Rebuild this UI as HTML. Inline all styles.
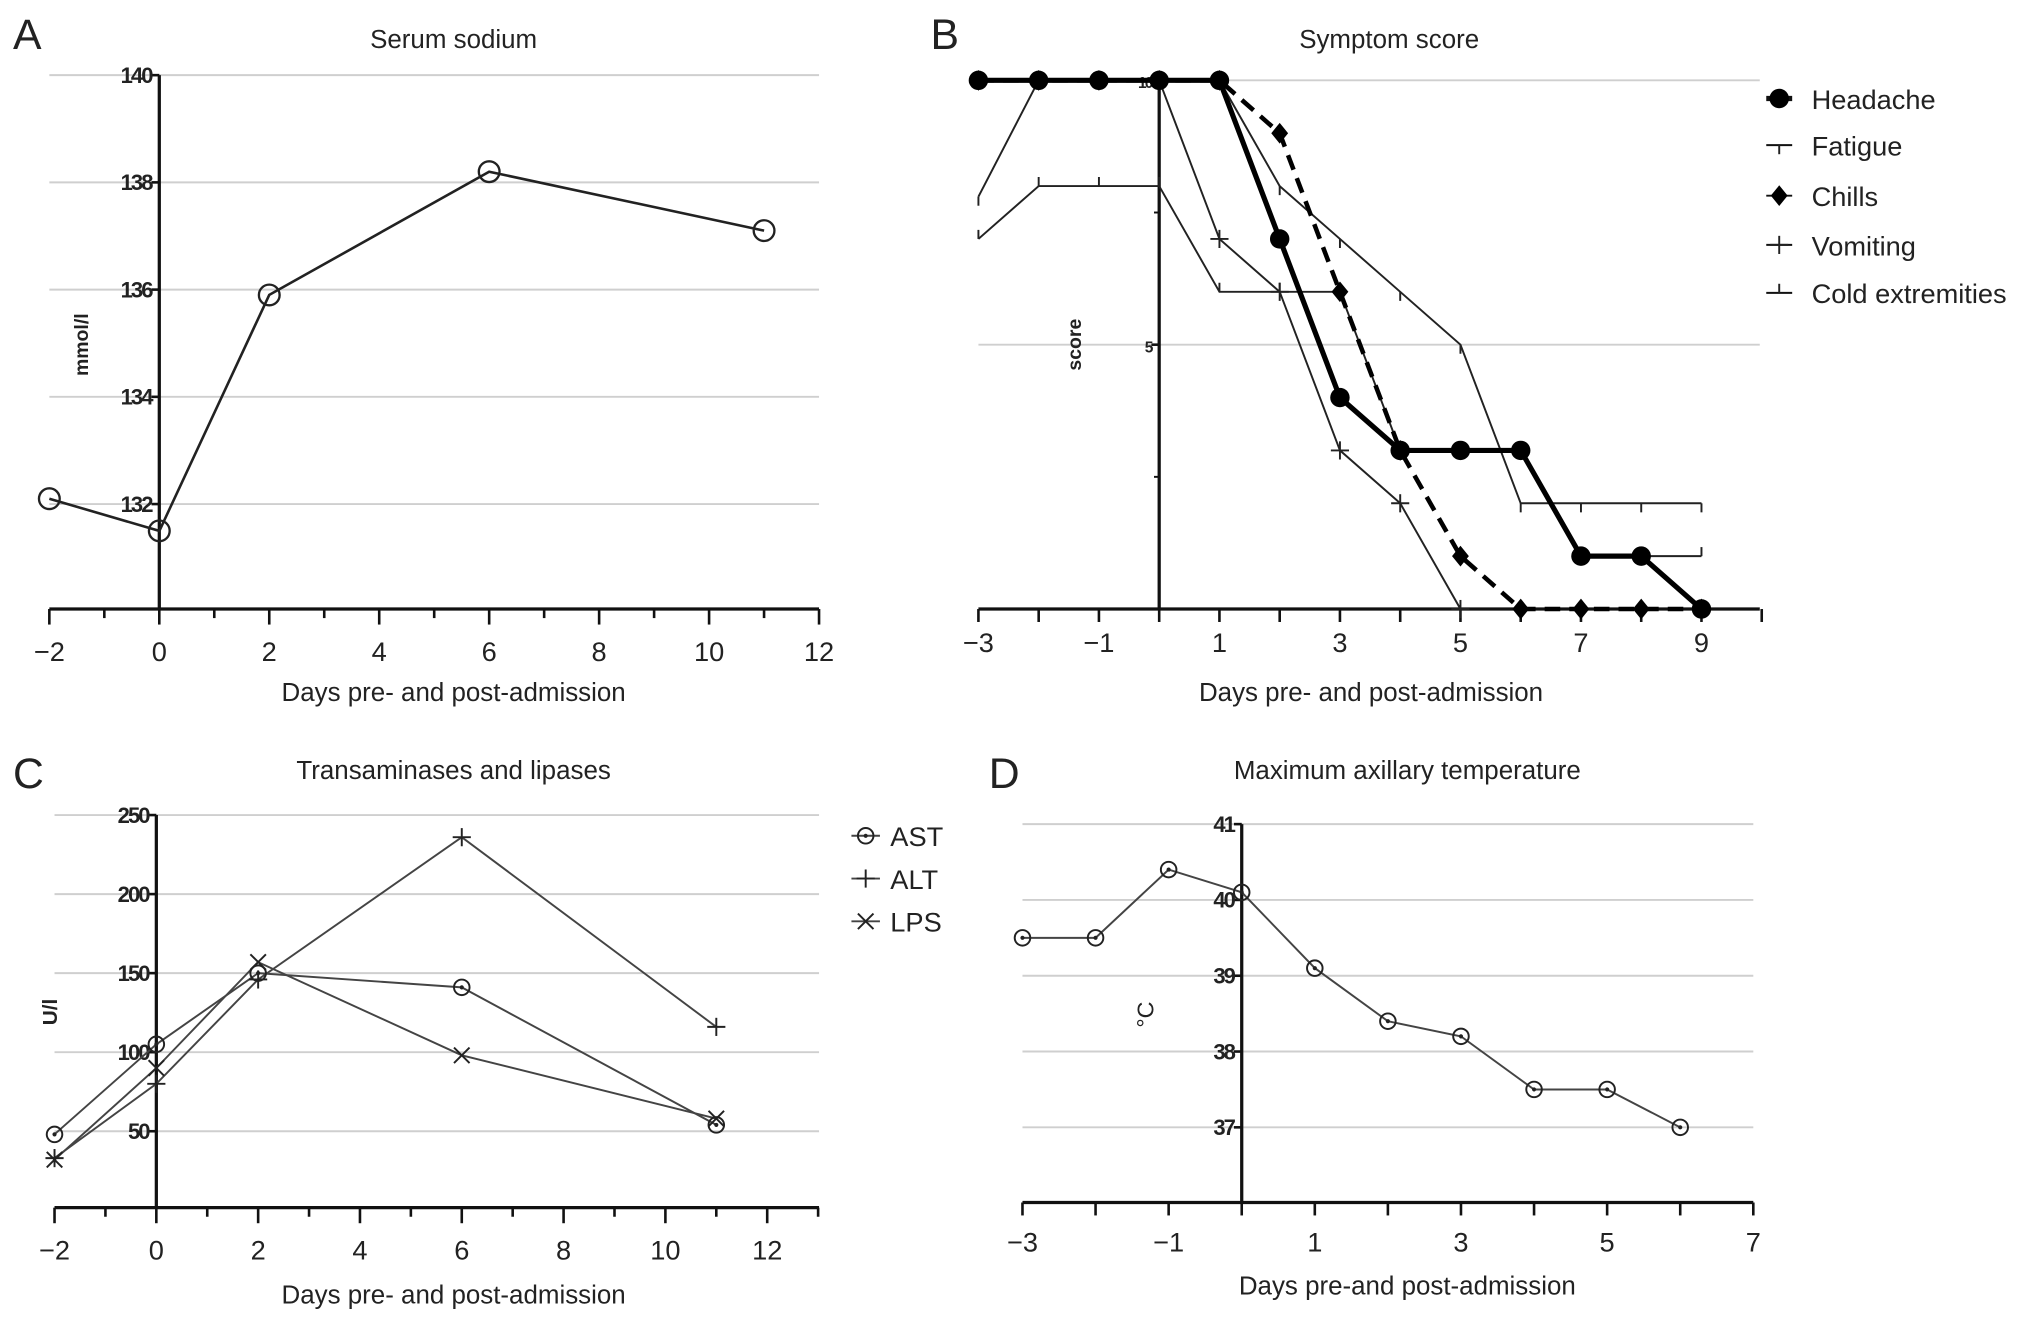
<!DOCTYPE html>
<html><head><meta charset="utf-8"><style>
html,body{margin:0;padding:0;background:#fff;}
svg{display:block;font-family:"Liberation Sans",Arial,sans-serif;}
</style></head><body>
<svg id="fig" width="2032" height="1323" viewBox="0 0 1568 1021" xmlns="http://www.w3.org/2000/svg">
<rect width="1568" height="1021" fill="#fff"/>
</svg>
<script>
// Panel A data
const aDays = [-2, 0, 2, 6, 11];
const aSodium = [132.1, 131.5, 135.9, 138.2, 137.1];
const aYTicks = [132, 134, 136, 138, 140];
const aXTicks = [-2, 0, 2, 4, 6, 8, 10, 12];
// Panel B data
const bDays = [-3, -2, -1, 0, 1, 2, 3, 4, 5, 6, 7, 8, 9];
const bHeadache = [10, 10, 10, 10, 10, 7, 4, 3, 3, 3, 1, 1, 0];
const bFatigue = [7.8, 10, 10, 10, 10, 8, 7, 6, 5, 2, 2, 2, 2];
const bChills = [10, 10, 10, 10, 10, 9, 6, 3, 1, 0, 0, 0, 0];
const bVomitDays = [0, 1, 2, 3, 4, 5];
const bVomiting = [10, 7, 6, 3, 2, 0];
const bCold = [7, 8, 8, 8, 6, 6, 6, 3, 3, 3, 1, 1, 1];
const bXTickLabels = [-3, -1, 1, 3, 5, 7, 9];
const bYTicks = [5, 10];
// Panel C data
const cDays = [-2, 0, 2, 6, 11];
const cAST = [48, 105, 150, 141, 54];
const cALT = [33, 80, 146, 236, 116];
const cLPS = [32, 90, 157, 98, 58];
const cYTicks = [50, 100, 150, 200, 250];
const cXTicks = [-2, 0, 2, 4, 6, 8, 10, 12];
// Panel D data
const dDays = [-3, -2, -1, 0, 1, 2, 3, 4, 5, 6];
const dTemp = [39.5, 39.5, 40.4, 40.1, 39.1, 38.4, 38.2, 37.5, 37.5, 37.0];
const dYTicks = [37, 38, 39, 40, 41];
const dXTickLabels = [-3, -1, 1, 3, 5, 7];

const NS = "http://www.w3.org/2000/svg";
const svg = document.getElementById('fig');
function el(tag, attrs, parent, text){
  const e = document.createElementNS(NS, tag);
  for (const k in attrs) e.setAttribute(k, attrs[k]);
  if (text !== undefined) e.textContent = text;
  (parent || svg).appendChild(e);
  return e;
}
function lin(d0, d1, r0, r1){ return v => r0 + (v - d0) * (r1 - r0) / (d1 - d0); }
function txt(x, y, s, size, anchor, parent, name, extra){
  const t = el('text', Object.assign({x:x, y:y, 'font-size':size, 'text-anchor':anchor||'middle', fill:'#222'}, extra||{}), parent, s);
  
  
  return t;
}
function poly(xs, ys, X, Y, attrs, parent, name){
  const pts = xs.map((d,i)=>X(d).toFixed(1)+','+Y(ys[i]).toFixed(1)).join(' ');
  const p = el('polyline', Object.assign({points:pts, fill:'none', stroke:'#222'}, attrs), parent);
  
  
  return p;
}
function marker(type, x, y, parent, sw){
  const g = el('g', {}, parent);
  
  
  const st = {stroke:'#222', 'stroke-width': sw||1.5, fill:'none'};
  if (type==='circle') el('circle', Object.assign({cx:x, cy:y, r:8}, st), g);
  if (type==='circledot'){ el('circle', Object.assign({cx:x, cy:y, r:6}, st), g); el('circle',{cx:x,cy:y,r:1.6,fill:'#222'},g); }
  if (type==='filled') el('circle', {cx:x, cy:y, r:7.5, fill:'#000'}, g);
  if (type==='diamond') el('polygon', {points:`${x},${y-8} ${x+6.5},${y} ${x},${y+8} ${x-6.5},${y}`, fill:'#000'}, g);
  if (type==='plus'){ el('line', Object.assign({x1:x-7,y1:y,x2:x+7,y2:y},st),g); el('line', Object.assign({x1:x,y1:y-7,x2:x,y2:y+7},st),g); }
  if (type==='cross'){ el('line', Object.assign({x1:x-6,y1:y-6,x2:x+6,y2:y+6},st),g); el('line', Object.assign({x1:x-6,y1:y+6,x2:x+6,y2:y-6},st),g); }
  if (type==='tdown') el('line', Object.assign({x1:x,y1:y,x2:x,y2:y+7},st),g);
  if (type==='tup') el('line', Object.assign({x1:x,y1:y,x2:x,y2:y-7},st),g);
  return g;
}
function group(name){
  const g = el('g', {});
  
  
  return g;
}
function frame(g, X, Y, xMinPx, xMaxPx, yTopVal, axisX, axisY, yTicks, xMajors, xMinors, yLabelFmt, yTickSize){
  yTicks.forEach(v=>{
    const l = el('line', {x1:xMinPx, x2:xMaxPx, y1:Y(v), y2:Y(v), stroke:'#cfcfcf', 'stroke-width':1.5}, g);
    
    
  });
  const ya = el('line', {x1:axisX, x2:axisX, y1:Y(yTopVal), y2:axisY, stroke:'#111', 'stroke-width':2.5}, g);
  
  
  yTicks.forEach(v=>{
    el('line', {x1:axisX-6, x2:axisX, y1:Y(v), y2:Y(v), stroke:'#111', 'stroke-width':2}, g);
    txt(axisX-6, Y(v)+6, yLabelFmt(v), yTickSize||17, 'end', g, 'y-tick-label', {'font-weight':'bold', 'letter-spacing':'-1.5'});
  });
  const xa = el('line', {x1:xMinPx, x2:xMaxPx, y1:axisY, y2:axisY, stroke:'#111', 'stroke-width':2.5}, g);
  
  
  xMajors.forEach(v=>{
    el('line', {x1:X(v), x2:X(v), y1:axisY, y2:axisY+12, stroke:'#111', 'stroke-width':2}, g);
    txt(X(v), axisY+40, String(v).replace('-', '\u2212'), 21, 'middle', g, 'x-tick-label');
  });
  xMinors.forEach(v=>{
    el('line', {x1:X(v), x2:X(v), y1:axisY, y2:axisY+7, stroke:'#111', 'stroke-width':2}, g);
  });
}

// ---------- Panel A ----------
(function(){
  const g = group('panel-a-serum-sodium');
  const X = lin(-2, 12, 38, 632), Y = lin(132, 140, 389, 58);
  txt(10, 38, 'A', 33, 'start', g, 'panel-label-a');
  txt(350, 37, 'Serum sodium', 20, 'middle', g, 'chart-title');
  frame(g, X, Y, 38, 632, 140, X(0), 470, aYTicks, aXTicks, [-1,1,3,5,7,9,11], v=>String(v));
  txt(0, 0, 'mmol/l', 15, 'middle', g, 'y-axis-title', {transform:'translate(68,266) rotate(-90)', 'font-weight':'bold'});
  txt(350, 541, 'Days pre- and post-admission', 20, 'middle', g, 'x-axis-title');
  poly(aDays, aSodium, X, Y, {'stroke-width':2}, g, 'sodium-line');
  aDays.forEach((d,i)=>marker('circle', X(d), Y(aSodium[i]), g, 1.8));
})();

// ---------- Panel B ----------
(function(){
  const g = group('panel-b-symptom-score');
  const X = lin(-3, 9, 755, 1313), Y = lin(0, 10, 470, 62);
  txt(718, 38, 'B', 33, 'start', g, 'panel-label-b');
  txt(1072, 37, 'Symptom score', 20, 'middle', g, 'chart-title');
  frame(g, X, Y, 755, 1358, 10, X(0), 470, bYTicks, [], [], v=>String(v), 12);
  [-3,-2,-1,0,1,2,3,4,5,6,7,8,9,10].forEach(v=>el('line',{x1:X(v),x2:X(v),y1:470,y2:480,stroke:'#111','stroke-width':2},g));
  [2.5,7.5].forEach(v=>el('line',{x1:X(0)-4,x2:X(0),y1:Y(v),y2:Y(v),stroke:'#111','stroke-width':1.5},g));
  bXTickLabels.forEach(v=>txt(X(v), 503, String(v).replace('-', '\u2212'), 21, 'middle', g, 'x-tick-label'));
  txt(0, 0, 'score', 15, 'middle', g, 'y-axis-title', {transform:'translate(834,266) rotate(-90)', 'font-weight':'bold'});
  txt(1058, 541, 'Days pre- and post-admission', 20, 'middle', g, 'x-axis-title');
  poly(bDays, bFatigue, X, Y, {'stroke-width':1.5}, g, 'fatigue-line');
  bDays.forEach((d,i)=>marker('tdown', X(d), Y(bFatigue[i]), g));
  poly(bDays, bCold, X, Y, {'stroke-width':1.5}, g, 'cold-extremities-line');
  bDays.forEach((d,i)=>marker('tup', X(d), Y(bCold[i]), g));
  poly(bVomitDays, bVomiting, X, Y, {'stroke-width':1.5}, g, 'vomiting-line');
  bVomitDays.forEach((d,i)=>marker('plus', X(d), Y(bVomiting[i]), g));
  poly(bDays, bChills, X, Y, {'stroke-width':3.5, 'stroke-dasharray':'12,7', stroke:'#000'}, g, 'chills-line');
  bDays.forEach((d,i)=>marker('diamond', X(d), Y(bChills[i]), g));
  poly(bDays, bHeadache, X, Y, {'stroke-width':4, stroke:'#000'}, g, 'headache-line');
  bDays.forEach((d,i)=>marker('filled', X(d), Y(bHeadache[i]), g));
  const leg = [['Headache','filled',83],['Fatigue','tdown',119],['Chills','diamond',158],['Vomiting','plus',196],['Cold extremities','tup',233]];
  leg.forEach(([n,m,y])=>{
    const lg = el('g',{},g);
    
    
    el('line',{x1:1363,x2:1383,y1:y-7,y2:y-7,stroke:'#111','stroke-width':m==='filled'?4:1.5},lg);
    marker(m, 1373, y-7, lg);
    txt(1398, y+1, n, 21, 'start', lg, 'legend-label');
  });
})();

// ---------- Panel C ----------
(function(){
  const g = group('panel-c-transaminases');
  const X = lin(-2, 12, 42, 592), Y = lin(50, 250, 873, 629);
  txt(10, 608, 'C', 33, 'start', g, 'panel-label-c');
  txt(350, 601, 'Transaminases and lipases', 20, 'middle', g, 'chart-title');
  frame(g, X, Y, 42, 632, 250, X(0), 932, cYTicks, cXTicks, [-1,1,3,5,7,9,11,13], v=>String(v));
  txt(0, 0, 'U/l', 16, 'middle', g, 'y-axis-title', {transform:'translate(44,781) rotate(-90)', 'font-weight':'bold'});
  txt(350, 1006, 'Days pre- and post-admission', 20, 'middle', g, 'x-axis-title');
  poly(cDays, cAST, X, Y, {'stroke-width':1.5,stroke:'#444'}, g, 'ast-line');
  poly(cDays, cALT, X, Y, {'stroke-width':1.5,stroke:'#444'}, g, 'alt-line');
  poly(cDays, cLPS, X, Y, {'stroke-width':1.5,stroke:'#444'}, g, 'lps-line');
  cDays.forEach((d,i)=>{ marker('circledot', X(d), Y(cAST[i]), g); marker('plus', X(d), Y(cALT[i]), g); marker('cross', X(d), Y(cLPS[i]), g); });
  [['AST','circledot',645],['ALT','plus',678],['LPS','cross',711]].forEach(([n,m,y])=>{
    const lg = el('g',{},g);
    
    
    el('line',{x1:657,x2:679,y1:y,y2:y,stroke:'#444','stroke-width':1.5},lg);
    marker(m, 668, y, lg);
    txt(687, y+8, n, 21, 'start', lg, 'legend-label');
  });
})();

// ---------- Panel D ----------
(function(){
  const g = group('panel-d-temperature');
  const X = lin(-3, 7, 789, 1353), Y = lin(37, 41, 870, 636);
  txt(763, 608, 'D', 33, 'start', g, 'panel-label-d');
  txt(1086, 601, 'Maximum axillary temperature', 20, 'middle', g, 'chart-title');
  frame(g, X, Y, 789, 1353, 41, X(0), 928, dYTicks, [], [], v=>String(v));
  [-3,-2,-1,0,1,2,3,4,5,6,7].forEach(v=>el('line',{x1:X(v),x2:X(v),y1:928,y2:938,stroke:'#111','stroke-width':2},g));
  dXTickLabels.forEach(v=>txt(X(v), 966, String(v).replace('-', '\u2212'), 21, 'middle', g, 'x-tick-label'));
  txt(0, 0, '°C', 18, 'middle', g, 'y-axis-title', {transform:'translate(890,783) rotate(-90)'});
  txt(1086, 999, 'Days pre-and post-admission', 20, 'middle', g, 'x-axis-title');
  poly(dDays, dTemp, X, Y, {'stroke-width':1.5,stroke:'#444'}, g, 'temperature-line');
  dDays.forEach((d,i)=>marker('circledot', X(d), Y(dTemp[i]), g));
})();
</script>
</body></html>
